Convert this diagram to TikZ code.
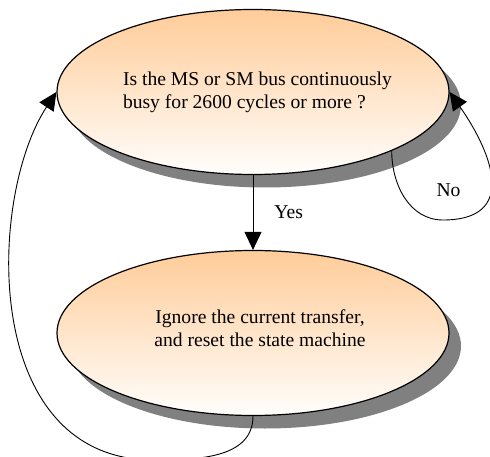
\documentclass[tikz,border=0pt]{standalone}
\usepackage{fontspec}
\setmainfont{Liberation Serif}
\usetikzlibrary{shapes.geometric,shadows,arrows.meta}
\definecolor{peach}{RGB}{255,204,153}
\definecolor{shadowgray}{RGB}{128,128,128}
\begin{document}
\begin{tikzpicture}[x=1pt,y=1pt,
  state/.style={ellipse, draw=black, line width=1.2pt,
    minimum width=392pt, minimum height=165pt, inner sep=0pt,
    top color=peach, bottom color=white!97!peach,
    drop shadow={shadow xshift=12pt, shadow yshift=-13pt,
      fill=shadowgray, opacity=1}},
  txt/.style={font=\fontsize{19.6}{23}\selectfont, inner sep=0pt},
  flow/.style={line width=0.9pt, -{Triangle[length=18pt,width=17pt]}}]
\useasboundingbox (0,0) rectangle (490,456);

% the two states
\node[state] (q) at (253,364) {};
\node[state] (r) at (253,123) {};
\node[txt, align=left] (qt) at ([xshift=4.5pt]q.center)
  {Is the MS or SM bus continuously\\busy for 2600 cycles or more ?};
\node[txt, align=center] (rt) at ([xshift=7pt,yshift=4.5pt]r.center)
  {Ignore the current transfer,\\and reset the state machine};

% transitions
\draw[flow] (q.south) -- node[txt, right, xshift=21pt] (yes) {Yes} (r.north);

\coordinate (nb) at (443,236);
\draw[flow] (q.-23) to[out=-90,in=180] (nb)
  to[out=0,in=-55,looseness=1.5] (q.east);
\node[txt] (no) at (448.5,266) {No};

\coordinate (lb) at (150,-4);
\draw[flow] (r.south) to[out=-90,in=0] (lb)
  .. controls (-20,0) and (-12,260) .. (q.west);
\end{tikzpicture}
\end{document}
